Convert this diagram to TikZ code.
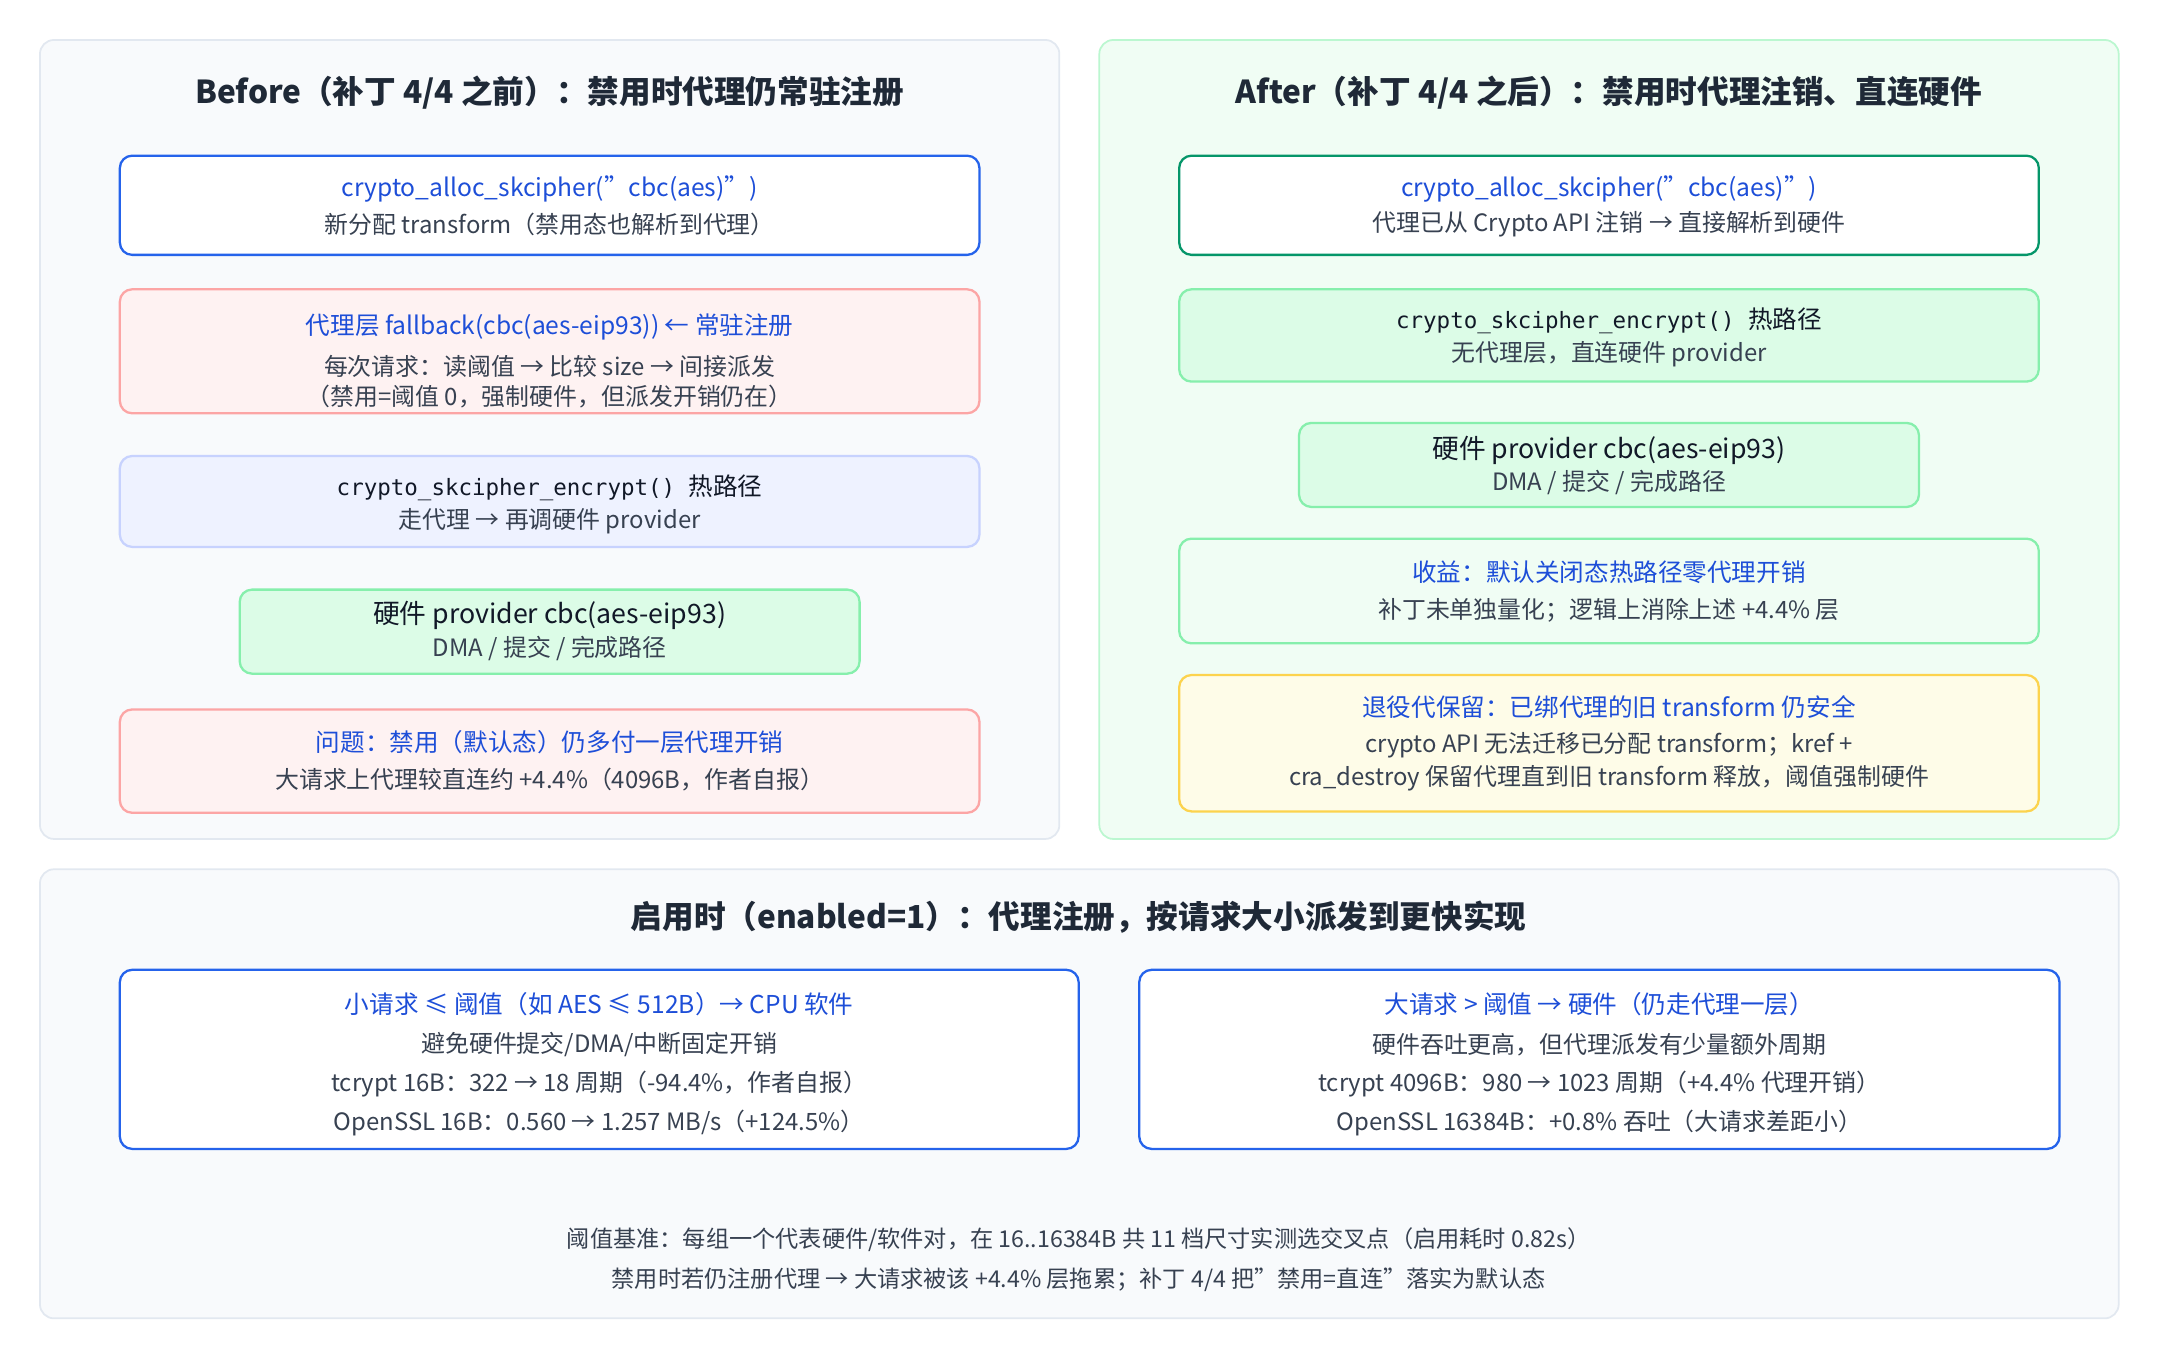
\documentclass[tikz,border=0pt]{standalone}
\usepackage{fontspec}
\setmainfont{Noto Sans CJK SC}
\setmonofont{DejaVu Sans Mono}
\definecolor{pbg}{HTML}{F8FAFC}\definecolor{pbd}{HTML}{E2E8F0}
\definecolor{gbg}{HTML}{F0FDF4}\definecolor{gbd}{HTML}{BBF7D0}
\definecolor{blu}{HTML}{2563EB}\definecolor{tblu}{HTML}{1D4ED8}
\definecolor{dgr}{HTML}{059669}
\definecolor{rbg}{HTML}{FEF2F2}\definecolor{rbd}{HTML}{FCA5A5}
\definecolor{ibg}{HTML}{EEF2FF}\definecolor{ibd}{HTML}{C7D2FE}
\definecolor{hbg}{HTML}{DCFCE7}\definecolor{hbd}{HTML}{86EFAC}
\definecolor{ybg}{HTML}{FEFCE8}\definecolor{ybd}{HTML}{FCD34D}
\definecolor{txt}{HTML}{374151}\definecolor{dark}{HTML}{111827}
\definecolor{ttl}{HTML}{1F2937}
\begin{document}
\begin{tikzpicture}[x=0.013776cm,y=-0.013776cm,
  panel/.style={rounded corners=4pt,line width=0.5pt},
  bx/.style={rounded corners=3.5pt,line width=0.65pt},
  ttl/.style={font=\fontsize{9}{11}\selectfont\bfseries,text=ttl},
  hd/.style={font=\fontsize{7}{9}\selectfont,text=tblu},
  hw/.style={font=\fontsize{7.6}{9}\selectfont,text=dark},
  mono/.style={font=\fontsize{6.4}{8}\selectfont\ttfamily,text=dark},
  bd/.style={font=\fontsize{6.8}{8.3}\selectfont,text=txt,align=center},
  ft/.style={font=\fontsize{6.6}{8}\selectfont,text=txt}]
\useasboundingbox[fill=white] (0,0) rectangle (1568,987);
% panels
\draw[panel,fill=pbg,draw=pbd] (29,29) rectangle (769,609);
\draw[panel,fill=gbg,draw=gbd] (798,29) rectangle (1538,609);
\draw[panel,fill=pbg,draw=pbd] (29,631) rectangle (1538,957);
\node[ttl] (t1) at (399,67) {Before（补丁 4/4 之前）：禁用时代理仍常驻注册};
\node[ttl] (t2) at (1168,67) {After（补丁 4/4 之后）：禁用时代理注销、直连硬件};
\node[ttl] (t3) at (783,666) {启用时（enabled=1）：代理注册，按请求大小派发到更快实现};
% left boxes
\draw[bx,fill=white,draw=blu] (87,113) rectangle (711,185);
\node[hd] (l1a) at (399,137) {crypto\_alloc\_skcipher("cbc(aes)")};
\node[bd] (l1b) at (399,163) {新分配 transform（禁用态也解析到代理）};
\draw[bx,fill=rbg,draw=rbd] (87,210) rectangle (711,300);
\node[hd] (l2a) at (399,237) {代理层 fallback(cbc(aes-eip93)) ← 常驻注册};
\node[bd] (l2b) at (399,266) {每次请求：读阈值 → 比较 size → 间接派发};
\node[bd] (l2c) at (399,288) {（禁用=阈值 0，强制硬件，但派发开销仍在）};
\draw[bx,fill=ibg,draw=ibd] (87,331) rectangle (711,397);
\node[mono] (l3a) at (399,354) {crypto\_skcipher\_encrypt() \rmfamily\fontsize{7}{8}\selectfont 热路径};
\node[bd] (l3b) at (399,378) {走代理 → 再调硬件 provider};
\draw[bx,fill=hbg,draw=hbd] (174,428) rectangle (624,489);
\node[hw] (l4a) at (399,447) {硬件 provider cbc(aes-eip93)};
\node[bd] (l4b) at (399,471) {DMA / 提交 / 完成路径};
\draw[bx,fill=rbg,draw=rbd] (87,515) rectangle (711,590);
\node[hd] (l5a) at (399,539) {问题：禁用（默认态）仍多付一层代理开销};
\node[bd] (l5b) at (399,566) {大请求上代理较直连约 +4.4\%（4096B，作者自报）};
% right boxes
\draw[bx,fill=white,draw=dgr] (856,113) rectangle (1480,185);
\node[hd] (r1a) at (1168,137) {crypto\_alloc\_skcipher("cbc(aes)")};
\node[bd] (r1b) at (1168,163) {代理已从 Crypto API 注销 → 直接解析到硬件};
\draw[bx,fill=hbg,draw=hbd] (856,210) rectangle (1480,277);
\node[mono] (r2a) at (1168,233) {crypto\_skcipher\_encrypt() \rmfamily\fontsize{7}{8}\selectfont 热路径};
\node[bd] (r2b) at (1168,257) {无代理层，直连硬件 provider};
\draw[bx,fill=hbg,draw=hbd] (943,307) rectangle (1393,368);
\node[hw] (r3a) at (1168,327) {硬件 provider cbc(aes-eip93)};
\node[bd] (r3b) at (1168,350) {DMA / 提交 / 完成路径};
\draw[bx,fill=gbg,draw=hbd] (856,391) rectangle (1480,467);
\node[hd] (r4a) at (1168,415) {收益：默认关闭态热路径零代理开销};
\node[bd] (r4b) at (1168,443) {补丁未单独量化；逻辑上消除上述 +4.4\% 层};
\draw[bx,fill=ybg,draw=ybd] (856,490) rectangle (1480,589);
\node[hd] (r5a) at (1168,513) {退役代保留：已绑代理的旧 transform 仍安全};
\node[bd] (r5b) at (1168,541) {crypto API 无法迁移已分配 transform；kref +};
\node[bd] (r5c) at (1168,565) {cra\_destroy 保留代理直到旧 transform 释放，阈值强制硬件};
% bottom boxes
\draw[bx,fill=white,draw=blu] (87,704) rectangle (783,834);
\node[hd] (b1a) at (435,729) {小请求 ≤ 阈值（如 AES ≤ 512B）→ CPU 软件};
\node[bd] (b1b) at (435,758) {避免硬件提交/DMA/中断固定开销};
\node[bd] (b1c) at (435,787) {tcrypt 16B：322 → 18 周期（-94.4\%，作者自报）};
\node[bd] (b1d) at (435,815) {OpenSSL 16B：0.560 → 1.257 MB/s（+124.5\%）};
\draw[bx,fill=white,draw=blu] (827,704) rectangle (1495,834);
\node[hd] (b2a) at (1161,729) {大请求 > 阈值 → 硬件（仍走代理一层）};
\node[bd] (b2b) at (1161,758) {硬件吞吐更高，但代理派发有少量额外周期};
\node[bd] (b2c) at (1161,787) {tcrypt 4096B：980 → 1023 周期（+4.4\% 代理开销）};
\node[bd] (b2d) at (1161,815) {OpenSSL 16384B：+0.8\% 吞吐（大请求差距小）};
\node[ft] (f1) at (783,900) {阈值基准：每组一个代表硬件/软件对，在 16..16384B 共 11 档尺寸实测选交叉点（启用耗时 0.82s）};
\node[ft] (f2) at (783,929) {禁用时若仍注册代理 → 大请求被该 +4.4\% 层拖累；补丁 4/4 把"禁用=直连"落实为默认态};
\end{tikzpicture}
\end{document}
